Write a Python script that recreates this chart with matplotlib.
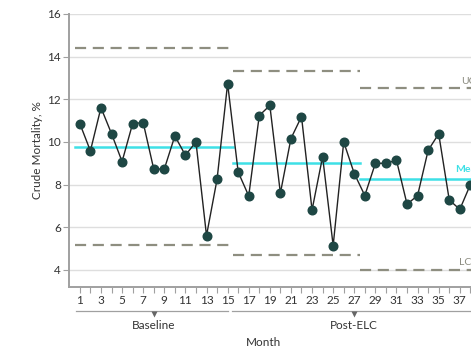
import matplotlib
matplotlib.use("Agg")
import matplotlib.pyplot as plt
import matplotlib.transforms as mtransforms

plt.rcParams['font.family'] = ['Lato', 'DejaVu Sans']

months = list(range(1, 39))
mortality = [10.86, 9.58, 11.61, 10.39, 9.08, 10.86, 10.91, 8.73, 8.73, 10.28,
             9.38, 10.0, 5.61, 8.25, 12.74, 8.59, 7.47, 11.24, 11.71, 7.6,
             10.16, 11.19, 6.81, 9.31, 5.14, 10.0, 8.52, 7.49, 9.0, 9.0,
             9.14, 7.08, 7.49, 9.61, 10.38, 7.28, 6.84, 8.0]

phase_start = [0.5, 15.5, 27.5]
phase_end = [15.5, 27.5, 40.0]
phase_mean = [9.75, 9.03, 8.25]
phase_ucl = [14.41, 13.35, 12.53]
phase_lcl = [5.15, 4.70, 3.98]

yticks = [4, 6, 8, 10, 12, 14, 16]
xtick_labels = [str(m) if m % 2 == 1 else "" for m in months]

W, H = 471, 349
fig = plt.figure(figsize=(W / 100, H / 100), dpi=100)
ax = fig.add_axes([69.3 / W, 62 / H, (W - 69.3) / W, 273 / H])

grey = "#a0a0a0"
dash_col = "#8e8e80"
cyan = "#3ee0e6"
dot_col = "#1e4744"

ax.set_xlim(0, 38.06)
ax.set_ylim(3.2, 16)
ax.set_yticks(yticks)
ax.grid(axis='y', color="#dedede", linewidth=1.0)
ax.set_axisbelow(True)

for s, e, m, u, l in zip(phase_start, phase_end, phase_mean, phase_ucl, phase_lcl):
    ax.plot([s, e], [m, m], color=cyan, lw=1.8, zorder=2)
    ax.plot([s, e], [u, u], color=dash_col, lw=1.6, dashes=(5, 3), zorder=2)
    ax.plot([s, e], [l, l], color=dash_col, lw=1.6, dashes=(5, 3), zorder=2)

ax.plot(months, mortality, color="#222222", lw=1.0, marker='o', ms=6.2,
        mfc=dot_col, mec=dot_col, zorder=3)

side_labels = [("UCL", 461.5, 81.5, "#8a8a7e", 'normal'),
               ("Mean", 455.5, 170, cyan, 'bold'),
               ("LCL", 459.5, 262.5, "#8a8a7e", 'normal')]
for txt, px, py, col, wt in side_labels:
    fig.text(px / W, (H - py) / H, txt, color=col, fontsize=7.5, va='center',
             ha='left', fontweight=wt)

ax.set_xticks(months)
ax.set_xticklabels(xtick_labels)
ax.tick_params(axis='x', length=4, width=0.8, color=grey, labelsize=8.5, pad=2, labelcolor="#333333")
ax.tick_params(axis='y', length=4, width=0.8, color=grey, labelsize=8.5, pad=2, labelcolor="#333333")

for sp in ['top', 'right']:
    ax.spines[sp].set_visible(False)
for sp in ['left', 'bottom']:
    ax.spines[sp].set_color(grey)
    ax.spines[sp].set_linewidth(1.4)

ax.set_ylabel("Crude Mortality, %", fontsize=8.5, color="#333333", labelpad=3)

trans = mtransforms.blended_transform_factory(ax.transData, ax.transAxes)
yb = -0.087
brackets = [("Baseline", 0.65, 15.05, 8), ("Post-ELC", 15.45, 40.0, 27)]
for name, x0, x1, xc in brackets:
    ax.plot([x0, x1], [yb, yb], transform=trans, color=grey, lw=0.9, clip_on=False)
    ax.plot([xc], [yb - 0.013], transform=trans, marker='v', ms=4, color="#666666",
            clip_on=False, mec='none')
    ax.text(xc, -0.14, name, transform=trans, ha='center', va='center', fontsize=8.5,
            color="#333333")

ax.text(18.4, -0.205, "Month", transform=trans, ha='center', va='center', fontsize=8.5,
        color="#333333")

fig.savefig("out.png", dpi=100)
